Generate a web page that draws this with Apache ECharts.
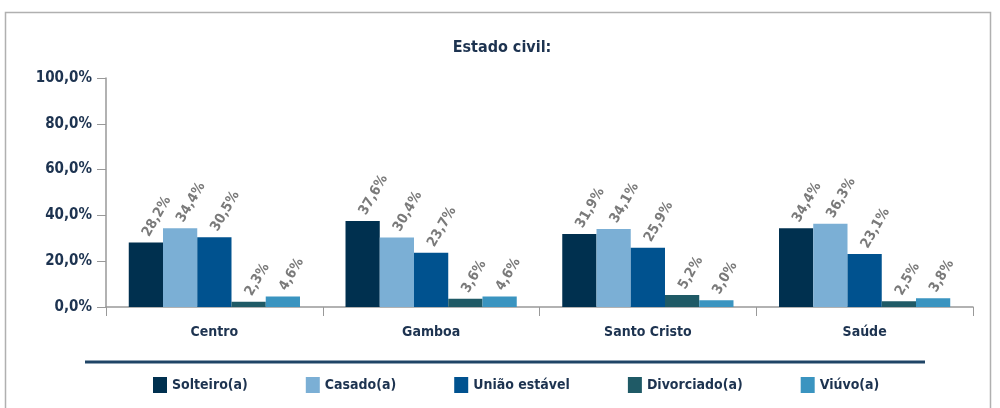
<!DOCTYPE html>
<html>
<head>
<meta charset="utf-8">
<script src="https://cdn.jsdelivr.net/npm/echarts@6/dist/echarts.min.js"></script>
<style>
  html, body { margin: 0; padding: 0; background: #fff; }
  #chart { width: 1000px; height: 408px; }
</style>
</head>
<body>
<div id="chart"></div>
<script>
// data
const categories = ["Centro", "Gamboa", "Santo Cristo", "Saúde"];
const seriesNames = ["Solteiro(a)", "Casado(a)", "União estável", "Divorciado(a)", "Viúvo(a)"];
const solteiro = [28.2, 37.6, 31.9, 34.4];
const casado = [34.4, 30.4, 34.1, 36.3];
const uniaoEstavel = [30.5, 23.7, 25.9, 23.1];
const divorciado = [2.3, 3.6, 5.2, 2.5];
const viuvo = [4.6, 4.6, 3.0, 3.8];
const yTicks = [0, 20, 40, 60, 80, 100];

const colors = ["#00304f", "#7bafd5", "#00528f", "#1f5a66", "#3a94c0"];
const font = "'Liberation Sans Narrow', 'DejaVu Sans Condensed', sans-serif";
const navy = "#1d3350";

const fmt = (v) => v.toFixed(1).replace(".", ",") + "%";

const chart = echarts.init(document.getElementById("chart"));

const seriesData = [solteiro, casado, uniaoEstavel, divorciado, viuvo];

chart.setOption({
    animation: false,
    color: colors,
    title: {
        text: "Estado civil:",
        left: 497,
        textAlign: "center",
        top: 35,
        textStyle: { fontFamily: font, fontSize: 16, fontWeight: "bold", color: navy },
    },
    graphic: [
        {
            type: "rect",
            shape: { x: 5.5, y: 12.5, width: 985, height: 430 },
            style: { fill: "none", stroke: "#b0b0b0", lineWidth: 1.5 },
        },
        {
            type: "line",
            shape: { x1: 85, y1: 362, x2: 925, y2: 362 },
            style: { stroke: "#1f4466", lineWidth: 3 },
        },
    ],
    legend: {
        data: seriesNames,
        left: 148,
        top: 372,
        itemWidth: 14,
        itemHeight: 16,
        itemGap: 58,
        icon: "rect",
        textStyle: { fontFamily: font, fontSize: 14, fontWeight: "bold", color: navy },
    },
    grid: { left: 106, right: 27, top: 78, bottom: 101 },
    xAxis: {
        type: "category",
        data: categories,
        axisLine: { lineStyle: { color: "#999", width: 1.5 } },
        axisTick: { show: true, length: 9, lineStyle: { color: "#999" } },
        axisLabel: {
            margin: 18,
            fontFamily: font,
            fontSize: 14,
            fontWeight: "bold",
            color: navy,
        },
    },
    yAxis: {
        type: "value",
        min: 0,
        max: 100,
        interval: 20,
        axisLine: { show: true, lineStyle: { color: "#999", width: 1.5 } },
        axisTick: { show: true, length: 9, lineStyle: { color: "#999" } },
        splitLine: { show: false },
        axisLabel: {
            margin: 14,
            fontFamily: font,
            fontSize: 15,
            fontWeight: "bold",
            color: navy,
            formatter: (v) => (yTicks.includes(v) ? fmt(v) : ""),
        },
    },
    series: seriesNames.map((name, i) => ({
        name,
        type: "bar",
        data: seriesData[i],
        barGap: "0%",
        barCategoryGap: "21%",
        label: {
            show: true,
            position: "top",
            rotate: 60,
            align: "left",
            verticalAlign: "middle",
            distance: 7,
            fontFamily: font,
            fontSize: 14,
            fontWeight: "bold",
            color: "#7a7a7a",
            formatter: (p) => fmt(p.value),
        },
    })),
});
</script>
</body>
</html>
